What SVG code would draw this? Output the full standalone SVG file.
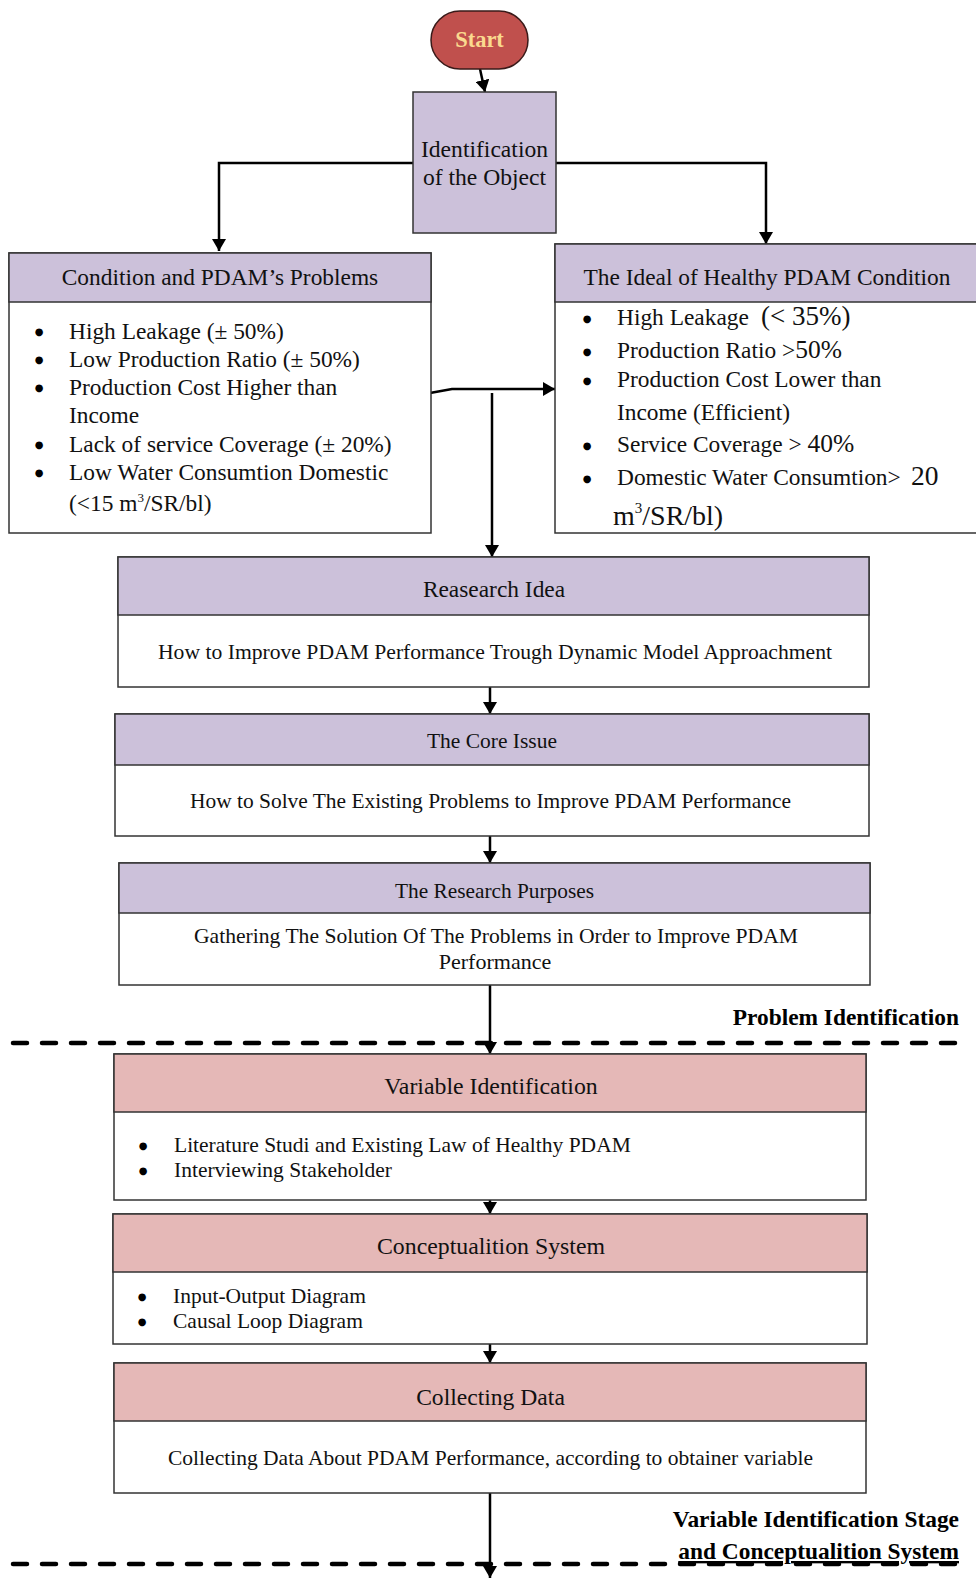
<svg xmlns="http://www.w3.org/2000/svg" width="976" height="1578" viewBox="0 0 976 1578">
<defs>
<marker id="ah" viewBox="0 0 12 14" markerWidth="12" markerHeight="14" refX="12" refY="7" orient="auto" markerUnits="userSpaceOnUse">
<path d="M0,0 L12,7 L0,14 z" fill="#000"/>
</marker>
<style>
.t{font-family:"Liberation Serif","Times New Roman",serif;fill:#111;}
.c{text-anchor:middle;}
.h23{font-size:23.4px;}
.b22{font-size:22px;}
.s21{font-size:21.5px;}
.bl{font-family:"DejaVu Sans",sans-serif;font-size:10px;text-anchor:middle;fill:#000;}
.lbl{font-family:"Liberation Serif","Times New Roman",serif;font-weight:bold;font-size:23.4px;fill:#000;text-anchor:end;}
.hp{fill:#CCC1DA;stroke:#333;stroke-width:1.5;}
.hr{fill:#E5B8B7;stroke:#333;stroke-width:1.5;}
.bd{fill:#fff;stroke:#333;stroke-width:1.5;}
.conn{fill:none;stroke:#000;stroke-width:2.5;marker-end:url(#ah);}
.dash{fill:none;stroke:#000;stroke-width:4.5;stroke-dasharray:14 15;stroke-linecap:round;}
</style>
</defs>
<rect width="976" height="1578" fill="#fff"/>

<g id="connectors">
<path class="conn" d="M480,69 L485,92"/>
<path class="conn" d="M413,163 H219 V251"/>
<path class="conn" d="M556,163 H766 V244"/>
<path class="conn" d="M430,393 L452,389 H555"/>
<path class="conn" d="M492,393 V557"/>
<path class="conn" d="M490,687 V714"/>
<path class="conn" d="M490,836 V863"/>
<path class="conn" d="M490,985 V1054"/>
<path class="conn" d="M490,1200 V1214"/>
<path class="conn" d="M490,1344 V1363"/>
<path class="conn" d="M490,1493 V1578"/>
</g>

<g id="separators">
<path class="dash" d="M13,1043 H963"/>
<path class="dash" d="M13,1564 H963"/>
<text class="lbl" x="959" y="1025">Problem Identification</text>
<text class="lbl" x="959" y="1527" font-size="24.2">Variable Identification Stage</text>
<text class="lbl" x="959" y="1559" font-size="24.2" text-decoration="underline">and Conceptualition System</text>
</g>

<g id="start">
<rect x="431" y="11" width="97" height="58" rx="29" ry="29" fill="#C0504D" stroke="#3a1a19" stroke-width="1.5"/>
<text x="479.5" y="47" font-family="Liberation Serif, Times New Roman, serif" font-weight="bold" font-size="22.5" fill="#FAD98F" text-anchor="middle">Start</text>
</g>

<g id="identification">
<rect class="hp" x="413" y="92" width="143" height="141"/>
<text class="t c" x="484.5" y="157" font-size="23.6">Identification</text>
<text class="t c" x="484.5" y="185" font-size="23.6">of the Object</text>
</g>

<g id="conditions">
<rect class="bd" x="9" y="253" width="422" height="280"/>
<rect class="hp" x="9" y="253" width="422" height="49"/>
<text class="t c h23" x="220" y="285">Condition and PDAM’s Problems</text>
<g class="t h23">
<text class="bl" x="39" y="335">●</text><text x="69" y="339">High Leakage (± 50%)</text>
<text class="bl" x="39" y="363">●</text><text x="69" y="367">Low Production Ratio (± 50%)</text>
<text class="bl" x="39" y="391">●</text><text x="69" y="395">Production Cost Higher than</text>
<text x="69" y="423">Income</text>
<text class="bl" x="39" y="448">●</text><text x="69" y="452">Lack of service Coverage (± 20%)</text>
<text class="bl" x="39" y="476">●</text><text x="69" y="480">Low Water Consumtion Domestic</text>
<text x="69" y="511">(&lt;15 m<tspan font-size="13" dy="-9">3</tspan><tspan dy="9">/SR/bl)</tspan></text>
</g>
</g>

<g id="ideal">
<rect class="bd" x="555" y="244" width="430" height="289"/>
<rect class="hp" x="555" y="244" width="430" height="58"/>
<text class="t c h23" x="767" y="285">The Ideal of Healthy PDAM Condition</text>
<g class="t h23">
<text class="bl" x="587" y="322">●</text><text x="617" y="325">High Leakage <tspan x="761" font-size="27">(&lt; 35%)</tspan></text>
<text class="bl" x="587" y="355">●</text><text x="617" y="358">Production Ratio &gt;<tspan font-size="25.5">50%</tspan></text>
<text class="bl" x="587" y="384">●</text><text x="617" y="387">Production Cost Lower than</text>
<text x="617" y="420">Income (Efficient)</text>
<text class="bl" x="587" y="449">●</text><text x="617" y="452">Service Coverage &gt; <tspan font-size="25.5">40%</tspan></text>
<text class="bl" x="587" y="482">●</text><text x="617" y="485">Domestic Water Consumtion&gt; <tspan x="911" font-size="27.5">20</tspan></text>
<text x="613" y="525" font-size="28">m<tspan font-size="15" dy="-12">3</tspan><tspan dy="12">/SR/bl)</tspan></text>
</g>
</g>

<g id="research-idea">
<rect class="bd" x="118" y="557" width="751" height="130"/>
<rect class="hp" x="118" y="557" width="751" height="58"/>
<text class="t c h23" x="494" y="597">Reasearch Idea</text>
<text class="t c b22" x="495" y="659" textLength="674" lengthAdjust="spacingAndGlyphs">How to Improve PDAM Performance Trough Dynamic Model Approachment</text>
</g>

<g id="core-issue">
<rect class="bd" x="115" y="714" width="754" height="122"/>
<rect class="hp" x="115" y="714" width="754" height="51"/>
<text class="t c" x="492" y="748" font-size="22" textLength="130" lengthAdjust="spacingAndGlyphs">The Core Issue</text>
<text class="t c b22" x="490.5" y="808" textLength="601" lengthAdjust="spacingAndGlyphs">How to Solve The Existing Problems to Improve PDAM Performance</text>
</g>

<g id="research-purposes">
<rect class="bd" x="119" y="863" width="751" height="122"/>
<rect class="hp" x="119" y="863" width="751" height="50"/>
<text class="t c" x="494.5" y="898" font-size="22" textLength="199" lengthAdjust="spacingAndGlyphs">The Research Purposes</text>
<text class="t c b22" x="496" y="943" textLength="604" lengthAdjust="spacingAndGlyphs">Gathering The Solution Of The Problems in Order to Improve PDAM</text>
<text class="t c b22" x="495" y="969">Performance</text>
</g>

<g id="variable-identification">
<rect class="bd" x="114" y="1054" width="752" height="146"/>
<rect class="hr" x="114" y="1054" width="752" height="58"/>
<text class="t c" x="491" y="1094" font-size="23.8">Variable Identification</text>
<g class="t s21">
<text class="bl" x="143" y="1149">●</text><text x="174" y="1152">Literature Studi and Existing Law of Healthy PDAM</text>
<text class="bl" x="143" y="1174">●</text><text x="174" y="1177">Interviewing Stakeholder</text>
</g>
</g>

<g id="conceptualition">
<rect class="bd" x="113" y="1214" width="754" height="130"/>
<rect class="hr" x="113" y="1214" width="754" height="58"/>
<text class="t c" x="491" y="1254" font-size="23.8">Conceptualition System</text>
<g class="t s21">
<text class="bl" x="142" y="1300">●</text><text x="173" y="1303">Input-Output Diagram</text>
<text class="bl" x="142" y="1325">●</text><text x="173" y="1328">Causal Loop Diagram</text>
</g>
</g>

<g id="collecting-data">
<rect class="bd" x="114" y="1363" width="752" height="130"/>
<rect class="hr" x="114" y="1363" width="752" height="58"/>
<text class="t c" x="490.5" y="1405" font-size="23.6">Collecting Data</text>
<text class="t c b22" x="490.5" y="1465" textLength="645" lengthAdjust="spacingAndGlyphs">Collecting Data About PDAM Performance, according to obtainer variable</text>
</g>
</svg>
